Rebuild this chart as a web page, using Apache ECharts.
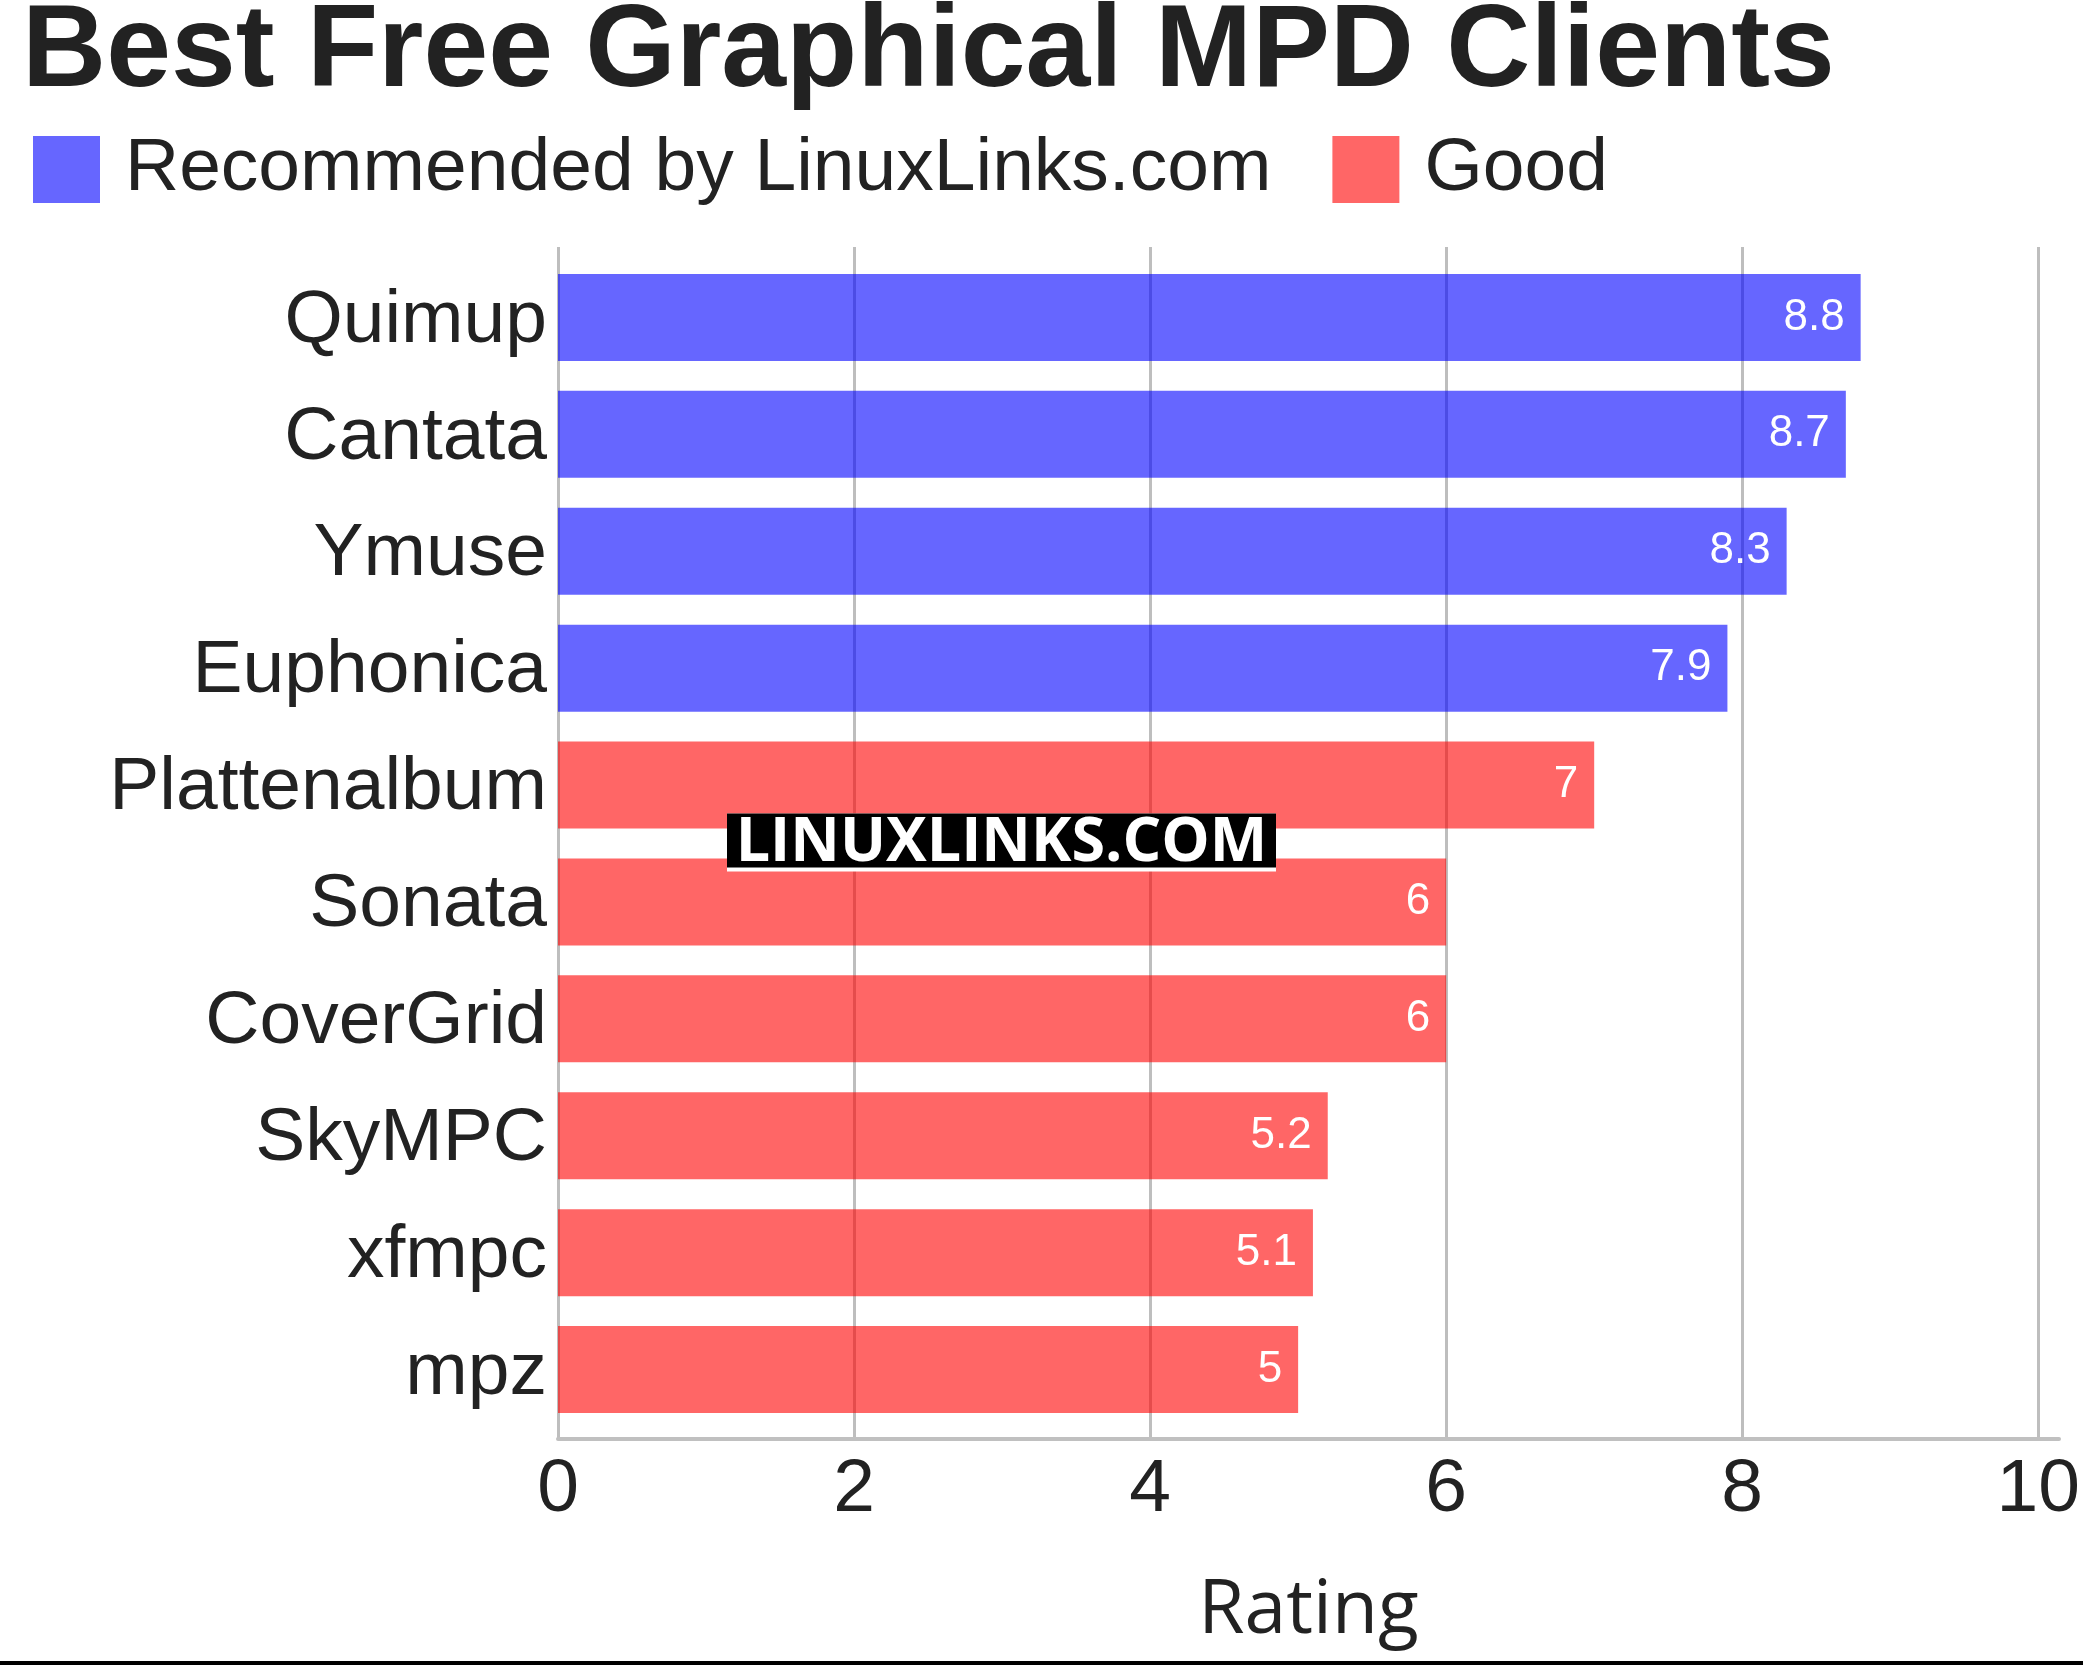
<!DOCTYPE html>
<html>
<head>
<meta charset="utf-8">
<title>Best Free Graphical MPD Clients</title>
<script src="https://cdn.jsdelivr.net/npm/echarts@6.0.0/dist/echarts.min.js"></script>
<style>
	html, body { margin: 0; padding: 0; background: #fff; }
	#chart { width: 2083px; height: 1665px; }
</style>
</head>
<body>
<div id="chart"></div>
<script>
// data
var clients = ['Quimup', 'Cantata', 'Ymuse', 'Euphonica', 'Plattenalbum', 'Sonata', 'CoverGrid', 'SkyMPC', 'xfmpc', 'mpz'];
var ratings = [8.8, 8.7, 8.3, 7.9, 7, 6, 6, 5.2, 5.1, 5];
var groups = ['rec', 'rec', 'rec', 'rec', 'good', 'good', 'good', 'good', 'good', 'good'];
var legendNames = ['Recommended by LinuxLinks.com', 'Good'];
var xTicks = [0, 2, 4, 6, 8, 10];

var sansFont = '"Liberation Sans", Arial, sans-serif';
var textColor = '#222';

// split the ratings into the two groups (null where not in the group)
function pick(g) {
	var out = [];
	for (var i = 0; i < ratings.length; i++) {
		out.push(groups[i] == g ? ratings[i] : '-');
	}
	return out;
}

var barLabel = {
	show: true,
	position: 'insideRight',
	distance: 16,
	color: '#fff',
	fontSize: 44,
	fontFamily: sansFont,
	padding: [8, 0, 0, 0]
};

var option = {
	animation: false,
	backgroundColor: '#fff',
	title: {
		text: 'Best Free Graphical MPD Clients',
		left: 22,
		top: -5,
		padding: 0,
		textStyle: { fontSize: 116.5, fontWeight: 'bold', color: textColor, fontFamily: sansFont }
	},
	legend: {
		data: legendNames,
		left: 33,
		top: 132,
		padding: 0,
		itemWidth: 67,
		itemHeight: 67,
		itemGap: 61,
		icon: 'rect',
		textStyle: { fontSize: 75, color: textColor, fontFamily: sansFont, padding: [12, 0, 0, 20] }
	},
	grid: [
		// grid 0: axis line, ticks and grid lines
		{ left: 558, right: 24, top: 247, bottom: 226 },
		// grid 1: the bars and category labels
		{ left: 558, right: 24, top: 259, bottom: 237 }
	],
	xAxis: [
		{
			gridIndex: 0,
			type: 'value',
			min: 0,
			max: 10.14,
			interval: 2,
			name: 'Rating',
			nameLocation: 'middle',
			nameGap: 135,
			nameTextStyle: { fontSize: 75, color: textColor, fontFamily: '"Open Sans", sans-serif' },
			axisLine: { show: true, lineStyle: { color: '#c0c0c0', width: 4 } },
			axisTick: { show: false },
			axisLabel: {
				fontSize: 75, color: textColor, fontFamily: sansFont, margin: 14,
				showMaxLabel: false,
				formatter: function (v) { return xTicks.indexOf(v) >= 0 ? String(v) : ''; }
			},
			splitLine: { show: true, showMaxLine: false, lineStyle: { color: '#bebebe', width: 3 } }
		},
		{
			gridIndex: 1,
			type: 'value',
			min: 0,
			max: 10.14,
			show: false
		}
	],
	yAxis: [
		{ gridIndex: 0, type: 'category', data: clients, inverse: true, show: false },
		{
			gridIndex: 1,
			type: 'category',
			data: clients,
			inverse: true,
			axisLine: { show: false },
			axisTick: { show: false },
			splitLine: { show: false },
			// lineHeight nudges the names a few px down, as in the picture
			axisLabel: { fontSize: 75, color: textColor, fontFamily: sansFont, margin: 11, verticalAlign: 'top', lineHeight: 7 }
		}
	],
	series: [
		{
			name: legendNames[0],
			type: 'bar',
			stack: 'rating',
			xAxisIndex: 1,
			yAxisIndex: 1,
			barWidth: 87,
			itemStyle: { color: 'rgba(0,0,255,0.6)' },
			label: barLabel,
			data: pick('rec')
		},
		{
			name: legendNames[1],
			type: 'bar',
			stack: 'rating',
			xAxisIndex: 1,
			yAxisIndex: 1,
			barWidth: 87,
			itemStyle: { color: 'rgba(255,0,0,0.6)' },
			label: barLabel,
			data: pick('good')
		}
	],
	graphic: [
		// watermark
		{
			type: 'group',
			left: 727,
			top: 813,
			z: 100,
			children: [
				{ type: 'rect', z: 100, shape: { x: 0, y: 0, width: 549, height: 58 }, style: { fill: '#fff' } },
				{ type: 'rect', z: 101, shape: { x: 0, y: 0, width: 549, height: 54 }, style: { fill: '#000' } },
				{
					type: 'text',
					z: 102,
					x: 274.5,
					y: 30,
					style: {
						text: 'LINUXLINKS.COM',
						fill: '#fff',
						font: 'bold 61px "Open Sans", sans-serif',
						textAlign: 'center', align: 'center',
						textVerticalAlign: 'middle', verticalAlign: 'middle'
					}
				}
			]
		},
		// rule at the bottom of the picture
		{ type: 'rect', left: 0, top: 1661, z: 100, shape: { width: 2083, height: 4 }, style: { fill: '#000' } }
	]
};

var mChart = echarts.init(document.getElementById('chart'));
mChart.setOption(option);
</script>
</body>
</html>
